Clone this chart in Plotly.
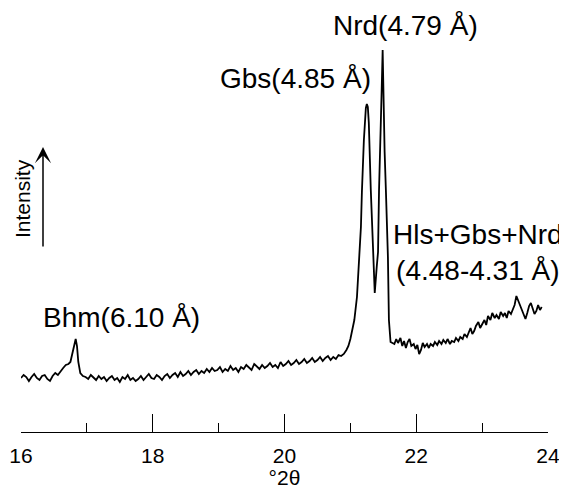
import plotly.graph_objects as go

# XRD scan, degrees 2-theta (Co K-alpha) and intensity (arbitrary units)
two_theta = [
    16.00, 16.04, 16.08, 16.12, 16.16, 16.20, 16.24, 16.28, 16.32, 16.36, 16.40, 16.44, 16.48, 16.52, 16.56,
    16.60, 16.64, 16.68, 16.72, 16.75, 16.78, 16.81, 16.83, 16.85, 16.87, 16.90, 16.94,
    16.98, 17.02, 17.06, 17.10, 17.14, 17.18, 17.22, 17.26, 17.30, 17.34,
    17.38, 17.42, 17.46, 17.50, 17.54, 17.58, 17.62, 17.66, 17.70, 17.74,
    17.78, 17.82, 17.86, 17.90, 17.94, 17.98, 18.02, 18.06, 18.10, 18.14,
    18.18, 18.22, 18.26, 18.30, 18.34, 18.38, 18.42, 18.46, 18.50, 18.54,
    18.58, 18.62, 18.66, 18.70, 18.74, 18.78, 18.82, 18.86, 18.90, 18.94,
    18.98, 19.02, 19.06, 19.10, 19.14, 19.18, 19.22, 19.26, 19.30, 19.34,
    19.38, 19.42, 19.46, 19.50, 19.54, 19.58, 19.62, 19.66, 19.70, 19.74,
    19.78, 19.82, 19.86, 19.90, 19.94, 19.98, 20.02, 20.06, 20.10, 20.14,
    20.18, 20.22, 20.26, 20.30, 20.34, 20.38, 20.42, 20.46, 20.50, 20.54,
    20.58, 20.62, 20.66, 20.70, 20.74, 20.78, 20.82, 20.86,
    20.90, 20.94, 20.97, 21.00, 21.03, 21.06, 21.10, 21.13, 21.16, 21.175,
    21.205, 21.235, 21.25, 21.265, 21.28, 21.31, 21.345, 21.37, 21.40, 21.42,
    21.435, 21.46, 21.475, 21.49, 21.505, 21.52, 21.54, 21.57, 21.585, 21.61,
    21.668, 21.696, 21.723, 21.760, 21.788, 21.815, 21.843, 21.870, 21.898, 21.925,
    21.962, 21.989, 22.017, 22.044, 22.072, 22.099, 22.127, 22.163, 22.191, 22.218,
    22.255, 22.283, 22.319, 22.347, 22.383, 22.411, 22.448, 22.475, 22.512, 22.539,
    22.576, 22.603, 22.640, 22.668, 22.705, 22.732, 22.769, 22.796, 22.824, 22.851,
    22.879, 22.906, 22.943, 22.970, 23.007, 23.035, 23.062, 23.089, 23.126, 23.154,
    23.191, 23.218, 23.255, 23.282, 23.319, 23.346, 23.374, 23.401, 23.438, 23.466,
    23.493, 23.520, 23.548, 23.575, 23.603, 23.630, 23.658, 23.685, 23.713, 23.740,
    23.768, 23.795, 23.823, 23.850, 23.878, 23.905,
]
intensity = [
    54, 57, 55, 51, 55, 58, 54, 52, 56, 57, 53, 51, 56, 59, 57,
    61, 64, 67, 68, 70, 78, 86, 93, 86, 70, 59, 56,
    55, 53, 57, 54, 52, 56, 53, 55, 51, 54,
    56, 52, 54, 50, 55, 53, 57, 52, 54, 51,
    53, 56, 52, 55, 58, 54, 53, 57, 55, 52,
    56, 58, 54, 57, 59, 55, 60, 56, 58, 61,
    57, 60, 62, 58, 61, 59, 63, 60, 64, 61,
    62, 65, 60, 63, 61, 66, 62, 64, 60, 65,
    63, 67, 64, 62, 68, 65, 63, 67, 64, 66,
    69, 65, 67, 64, 70, 66, 68, 71, 67, 69,
    72, 68, 70, 73, 69, 71, 74, 70, 72, 75,
    71, 74, 76, 72, 75, 73, 77, 76,
    78, 82, 86, 93, 101, 112, 135, 170, 205, 240,
    292, 324, 328, 325, 309, 242, 175, 139, 165, 180,
    242, 292, 342, 382, 322, 280, 240, 175, 112, 90,
    88, 93, 89, 94, 86, 91, 84, 90, 93, 86,
    88, 83, 87, 78, 82, 89, 85, 88, 84, 88,
    86, 90, 87, 91, 88, 92, 89, 93, 88, 91,
    90, 94, 91, 95, 93, 98, 95, 100, 104, 98,
    101, 106, 110, 104, 108, 112, 107, 116, 112, 119,
    114, 117, 113, 120, 116, 119, 114, 121, 118, 123,
    127, 136, 131, 128, 121, 117, 113, 119, 126, 129,
    122, 118, 121, 127, 122, 125,
]

major_ticks = [16, 18, 20, 22, 24]
major_tick_text = ["16", "18", "20", "22", "24"]
minor_ticks = [17, 19, 21, 23]

peak_labels = ["Nrd(4.79 Å)", "Gbs(4.85 Å)", "Hls+Gbs+Nrd<br>(4.48-4.31 Å)", "Bhm(6.10 Å)"]
label_x = [21.83, 20.17, 22.93, 17.52]
label_y = [407, 354, 180, 115]

FONT = "Liberation Sans, Arial, Helvetica, sans-serif"
W, H = 559, 481          # page body has an 8 px margin; figure fills the rest
PLOT_H = 424             # plot area height in px (t=0, b=57)

fig = go.Figure()
fig.add_trace(go.Scatter(
    x=two_theta, y=intensity, mode="lines",
    line=dict(color="black", width=1.8),
    hoverinfo="skip", showlegend=False,
))

for txt, lx, ly in zip(peak_labels, label_x, label_y):
    fig.add_annotation(x=lx, y=ly, xref="x", yref="y", text=txt, showarrow=False,
                       xanchor="center", yanchor="middle",
                       font=dict(family=FONT, size=28, color="black"))

# Intensity label with upward arrow
fig.add_annotation(x=14 / W, y=(432 - 199) / PLOT_H, xref="paper", yref="paper",
                   text="Intensity", textangle=-90, showarrow=False,
                   xanchor="center", yanchor="middle",
                   font=dict(family=FONT, size=21, color="black"))
fig.add_annotation(x=35 / W, y=(432 - 147) / PLOT_H, xref="paper", yref="paper",
                   text="", showarrow=True, ax=0, ay=101, axref="pixel", ayref="pixel",
                   arrowhead=3, arrowsize=1.8, arrowwidth=1.5, arrowcolor="black")

fig.update_layout(
    width=W, height=H,
    margin=dict(l=0, r=0, t=0, b=H - PLOT_H, autoexpand=False),
    paper_bgcolor="white", plot_bgcolor="white",
    font=dict(family=FONT, color="black"),
    xaxis=dict(
        domain=[13 / W, 540 / W],
        range=[16, 24],
        automargin=False,
        showgrid=False, zeroline=False,
        showline=True, linecolor="black", linewidth=1,
        tickmode="array", tickvals=major_ticks, ticktext=major_tick_text,
        ticks="inside", ticklen=18, tickwidth=1, tickcolor="black",
        tickfont=dict(family=FONT, size=21, color="black"),
        ticklabelstandoff=5,
        ticklabeloverflow="allow",
        minor=dict(tickmode="array", tickvals=minor_ticks, ticks="inside",
                   ticklen=9, tickwidth=1, tickcolor="black", showgrid=False),
        title=dict(text="°2θ", font=dict(family=FONT, size=21, color="black"), standoff=3),
    ),
    yaxis=dict(range=[0, PLOT_H], visible=False, showgrid=False, zeroline=False,
               automargin=False),
)

fig.write_html("out.html")
